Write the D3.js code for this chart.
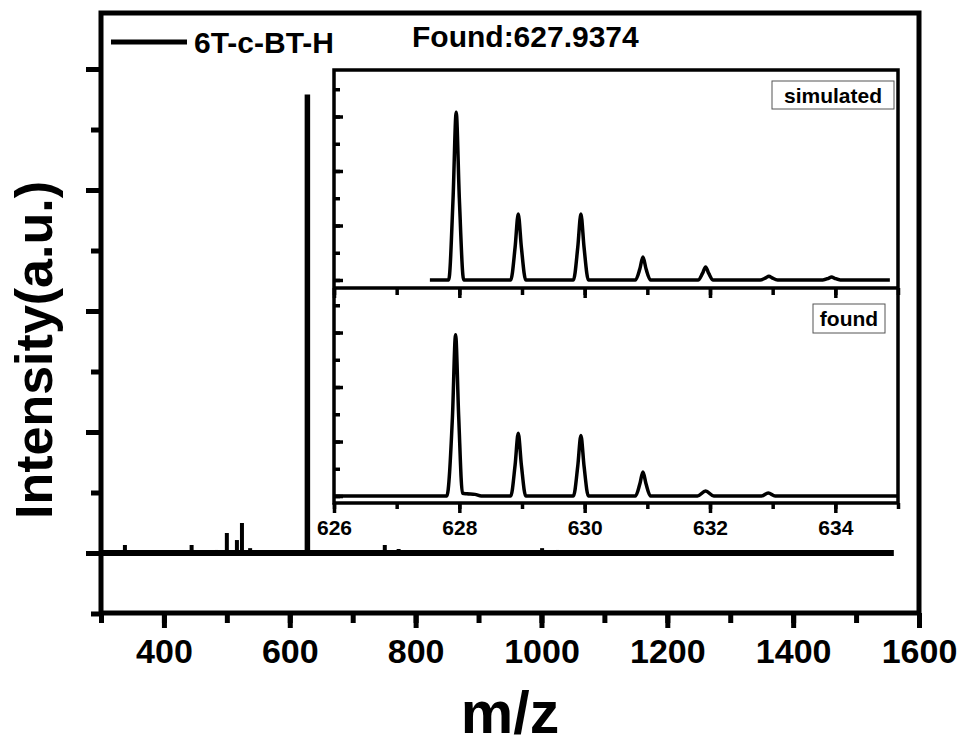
<!DOCTYPE html>
<html>
<head>
<meta charset="utf-8">
<script src="https://cdn.jsdelivr.net/npm/d3@7"></script>
<style>
  body { margin: 0; background: #fff; }
  svg { display: block; font-family: 'Liberation Sans', Arial, sans-serif; font-weight: bold; }
</style>
</head>
<body>
<svg id="chart" width="963" height="745"></svg>
<script>
// main spectrum, stick peaks (m/z, intensity a.u.)
const peakMz = [338, 444, 484, 500, 516, 524, 537, 548, 562, 578, 592, 628, 751, 773, 790, 815, 842, 868, 1001, 1025];
const peakIntensity = [0.066, 0.066, 0.025, 0.165, 0.107, 0.248, 0.04, 0.02, 0.02, 0.015, 0.02, 3.79, 0.066, 0.033, 0.015, 0.015, 0.02, 0.015, 0.04, 0.025];
const baselineMz = [300, 1560];

// inset, simulated isotope pattern
const simMz = [627.53, 627.83, 627.90, 627.95, 628.00, 628.07,
  628.82, 628.89, 628.94, 628.99, 629.06,
  629.82, 629.89, 629.94, 629.99, 630.06,
  630.81, 630.88, 630.93, 630.98, 631.05,
  631.81, 631.88, 631.93, 631.98, 632.05,
  632.80, 632.89, 632.94, 632.99, 633.08,
  633.80, 633.89, 633.94, 633.99, 634.08,
  634.87];
const simInt = [0, 0, 1.5, 3.08, 1.5, 0,
  0, 0.6, 1.21, 0.6, 0,
  0, 0.6, 1.21, 0.6, 0,
  0, 0.2, 0.42, 0.2, 0,
  0, 0.12, 0.24, 0.12, 0,
  0, 0.04, 0.07, 0.04, 0,
  0, 0.03, 0.055, 0.03, 0,
  0];

// inset, found isotope pattern
const foundMz = [626.0, 627.80, 627.89, 627.94, 627.99, 628.05, 628.12, 628.25, 628.35,
  628.82, 628.89, 628.94, 628.99, 629.06,
  629.82, 629.89, 629.94, 629.99, 630.06,
  630.81, 630.88, 630.93, 630.98, 631.05,
  631.80, 631.93, 632.06,
  632.82, 632.93, 633.04,
  635.0];
const foundInt = [0, 0, 1.45, 2.96, 1.45, 0.05, 0.04, 0.03, 0,
  0, 0.57, 1.15, 0.57, 0,
  0, 0.55, 1.11, 0.55, 0,
  0, 0.22, 0.44, 0.22, 0,
  0, 0.09, 0,
  0, 0.055, 0,
  0];

const xMajor = [400, 600, 800, 1000, 1200, 1400, 1600];
const xMinor = d3.range(300, 1601, 100);
const yMajor = [0, 1, 2, 3, 4];
const yMinor = d3.range(-0.5, 4.01, 0.5);
const insetMajor = [626, 628, 630, 632, 634];
const insetMinor = d3.range(626, 635.01, 1);
const insetYMajor = [0, 1, 2, 3];
const insetYMinor = d3.range(0, 3.51, 0.5);

const legendLabel = '6T-c-BT-H';
const foundLabel = 'Found:627.9374';

const svg = d3.select('#chart');

const x = d3.scaleLinear([300, 1600], [101, 919]);
const y = d3.scaleLinear([-0.496, 4.463], [613, 13]);

const ix = d3.scaleLinear([626, 635], [334, 898]);
const iyTop = d3.scaleLinear([-0.147, 3.853], [288, 70]);
const iyBot = d3.scaleLinear([-0.128, 3.817], [503, 288]);

function styleAxis(g, width) {
  g.select('.domain').remove();
  g.selectAll('line').attr('stroke', '#000').attr('stroke-width', width);
}

// main axes: minor then major ticks
svg.append('g').attr('transform', 'translate(0,613)')
  .call(d3.axisBottom(x).tickValues(xMinor).tickSize(10).tickFormat(''))
  .call(g => styleAxis(g, 5));
svg.append('g').attr('transform', 'translate(0,613)')
  .call(d3.axisBottom(x).tickValues(xMajor).tickSize(15).tickFormat(d3.format('d')))
  .call(g => styleAxis(g, 5))
  .call(g => g.selectAll('text').attr('dy', null).attr('y', 50)
    .attr('fill', '#000').attr('font-size', 34).attr('font-family', null));

svg.append('g').attr('transform', 'translate(101,0)')
  .call(d3.axisLeft(y).tickValues(yMinor).tickSize(10).tickFormat(''))
  .call(g => styleAxis(g, 5));
svg.append('g').attr('transform', 'translate(101,0)')
  .call(d3.axisLeft(y).tickValues(yMajor).tickSize(15).tickFormat(''))
  .call(g => styleAxis(g, 5));

// main spectrum
svg.append('line')
  .attr('x1', x(baselineMz[0])).attr('x2', x(baselineMz[1]))
  .attr('y1', y(0)).attr('y2', y(0))
  .attr('stroke', '#000').attr('stroke-width', 6);

svg.append('g')
  .selectAll('line')
  .data(peakMz.map((m, i) => ({ m, v: peakIntensity[i] })))
  .join('line')
  .attr('x1', d => x(d.m)).attr('x2', d => x(d.m))
  .attr('y1', y(0)).attr('y2', d => y(d.v))
  .attr('stroke', '#000')
  .attr('stroke-width', d => d.v > 1 ? 5.5 : 4);

// main frame
svg.append('rect')
  .attr('x', 101).attr('y', 13).attr('width', 818).attr('height', 600)
  .attr('fill', 'none').attr('stroke', '#000').attr('stroke-width', 5);

// legend
svg.append('line').attr('x1', 111).attr('x2', 187).attr('y1', 42).attr('y2', 42)
  .attr('stroke', '#000').attr('stroke-width', 5);
svg.append('text').attr('x', 194).attr('y', 53).attr('font-size', 30).text(legendLabel);
svg.append('text').attr('x', 412).attr('y', 47).attr('font-size', 30).text(foundLabel);

// axis titles
svg.append('text')
  .attr('transform', 'translate(52,350) rotate(-90)')
  .attr('text-anchor', 'middle').attr('font-size', 52)
  .text('Intensity(a.u.)');
svg.append('text')
  .attr('x', 510).attr('y', 733)
  .attr('text-anchor', 'middle').attr('font-size', 59)
  .text('m/z');

// inset
const inset = svg.append('g');
inset.append('rect')
  .attr('x', 334).attr('y', 70).attr('width', 564).attr('height', 433)
  .attr('fill', '#fff');

const lineSim = d3.line().x(d => ix(d[0])).y(d => iyTop(d[1])).curve(d3.curveMonotoneX);
const lineFound = d3.line().x(d => ix(d[0])).y(d => iyBot(d[1])).curve(d3.curveMonotoneX);

inset.append('path')
  .attr('d', lineSim(simMz.map((m, i) => [m, simInt[i]])))
  .attr('fill', 'none').attr('stroke', '#000').attr('stroke-width', 3.5).attr('stroke-linejoin', 'round');
inset.append('path')
  .attr('d', lineFound(foundMz.map((m, i) => [m, foundInt[i]])))
  .attr('fill', 'none').attr('stroke', '#000').attr('stroke-width', 3.5).attr('stroke-linejoin', 'round');

// inset axes
inset.append('g').attr('transform', 'translate(0,288)')
  .call(d3.axisBottom(ix).tickValues(insetMinor).tickSize(7).tickFormat(''))
  .call(g => styleAxis(g, 3.5));
inset.append('g').attr('transform', 'translate(0,288)')
  .call(d3.axisBottom(ix).tickValues(insetMajor).tickSize(10).tickFormat(''))
  .call(g => styleAxis(g, 3.5));
inset.append('g').attr('transform', 'translate(0,503)')
  .call(d3.axisBottom(ix).tickValues(insetMinor).tickSize(6).tickFormat(''))
  .call(g => styleAxis(g, 3.5));
inset.append('g').attr('transform', 'translate(0,503)')
  .call(d3.axisBottom(ix).tickValues(insetMajor).tickSize(10).tickFormat(d3.format('d')))
  .call(g => styleAxis(g, 3.5))
  .call(g => g.selectAll('text').attr('dy', null).attr('y', 32)
    .attr('fill', '#000').attr('font-size', 21).attr('font-family', null));

[iyTop, iyBot].forEach(sc => {
  inset.append('g').attr('transform', 'translate(334,0)')
    .call(d3.axisRight(sc).tickValues(insetYMinor).tickSize(6).tickFormat(''))
    .call(g => styleAxis(g, 3.5));
  inset.append('g').attr('transform', 'translate(334,0)')
    .call(d3.axisRight(sc).tickValues(insetYMajor).tickSize(9).tickFormat(''))
    .call(g => styleAxis(g, 3.5));
});

inset.append('rect')
  .attr('x', 334).attr('y', 70).attr('width', 564).attr('height', 433)
  .attr('fill', 'none').attr('stroke', '#000').attr('stroke-width', 3.5);
inset.append('line').attr('x1', 334).attr('x2', 898).attr('y1', 288).attr('y2', 288)
  .attr('stroke', '#000').attr('stroke-width', 3.5);

// panel labels
inset.append('rect').attr('x', 772).attr('y', 81).attr('width', 122).attr('height', 28)
  .attr('fill', '#fff').attr('stroke', '#555').attr('stroke-width', 1);
inset.append('text').attr('x', 833).attr('y', 103).attr('text-anchor', 'middle')
  .attr('font-size', 21).text('simulated');
inset.append('rect').attr('x', 813).attr('y', 304).attr('width', 72).attr('height', 29)
  .attr('fill', '#fff').attr('stroke', '#555').attr('stroke-width', 1);
inset.append('text').attr('x', 849).attr('y', 326).attr('text-anchor', 'middle')
  .attr('font-size', 21).text('found');
</script>
</body>
</html>
